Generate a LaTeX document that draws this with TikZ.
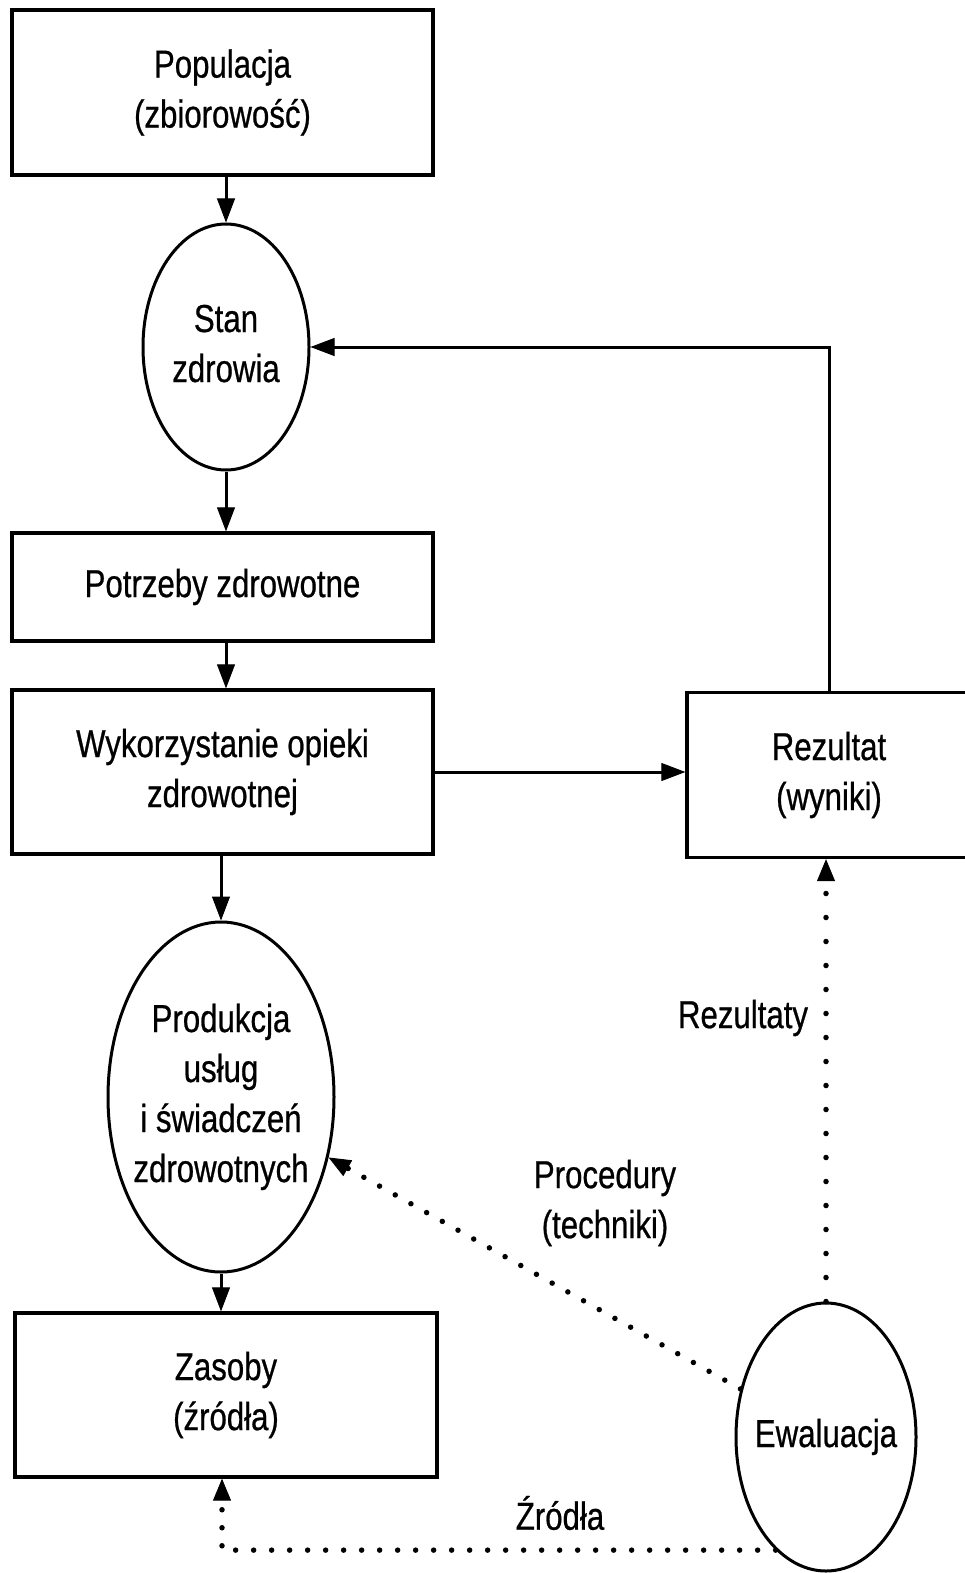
\documentclass[tikz,border=0pt]{standalone}
\usepackage{fontspec}
\setmainfont{Liberation Sans}[FakeStretch=0.8,FakeBold=0.6]
\usetikzlibrary{arrows.meta,shapes.geometric}

% centred lines that do not widen the ellipse around them
\newcommand{\ovaltext}[1]{\makebox[0pt]{\begin{tabular}{@{}c@{}}#1\end{tabular}}}

\begin{document}
\begin{tikzpicture}[x=1pt,y=-1pt,
  every node/.style={font=\fontsize{39}{50}\selectfont},
  box/.style={draw,line width=3.3pt,rectangle,inner sep=0pt,align=center},
  oval/.style={draw,line width=3pt,ellipse,inner sep=0pt},
  link/.style={line width=3pt,-{Triangle[length=24pt,width=18pt,line width=1pt]}},
  dots/.style={line width=5.5pt,line cap=round,dash pattern=on 0pt off 18pt,
    -{Triangle[length=22pt,width=18pt,line width=1pt]}},
  lbl/.style={align=center,inner sep=0pt}]

\useasboundingbox (0,0) rectangle (965,1573);
\fill[white] (0,0) rectangle (965,1573);
\clip (0,0) rectangle (965,1573);

% left column
\node[box,minimum width=421pt,minimum height=165pt] (pop) at (222.5,92.5)
  {Populacja\\(zbiorowość)};
\node[oval,minimum width=166pt,minimum height=246pt] (stan) at (226,347)
  {\ovaltext{Stan\\zdrowia}};
\node[box,minimum width=421pt,minimum height=108pt] (potr) at (222.5,587)
  {Potrzeby zdrowotne};
\node[box,minimum width=421pt,minimum height=164pt] (wyk) at (222.5,772)
  {Wykorzystanie opieki\\zdrowotnej};
\node[oval,minimum width=226pt,minimum height=350pt] (prod) at (221,1097)
  {\ovaltext{Produkcja\\usług\\i świadczeń\\zdrowotnych}};
\node[box,minimum width=422pt,minimum height=164pt] (zas) at (226,1395)
  {Zasoby\\(źródła)};

% right column
\node[box,minimum width=284pt,minimum height=165pt] (rez) at (829,775)
  {Rezultat\\(wyniki)};
\node[oval,minimum width=180pt,minimum height=268pt] (ewa) at (826,1437)
  {\ovaltext{Ewaluacja}};

% labels of the evaluation links
\node[lbl] (lrez) at (743,1018) {Rezultaty};
\node[lbl] (lproc) at (605,1203) {Procedury\\(techniki)};
\node[lbl] (lzr) at (560,1513) {Źródła};

% main flow
\draw[link] (pop.south -| stan.north) -- (stan.north);
\draw[link] (stan.south) -- (stan.south |- potr.north);
\draw[link] (potr.south -| stan.south) -- (stan.south |- wyk.north);
\draw[link] (prod.north |- wyk.south) -- (prod.north);
\draw[link] (prod.south) -- (prod.south |- zas.north);
\draw[link] (wyk.east) -- (wyk.east -| rez.west);
\draw[link] (rez.north) |- (stan.east);

% evaluation links
\draw[dots,dash pattern=on 0pt off 24pt] (ewa.north) -- (ewa.north |- rez.south);
\draw[dots] (ewa) -- (prod);
\draw[dots] (ewa.246.6) -| ([xshift=-4pt]zas.south);
\end{tikzpicture}
\end{document}
